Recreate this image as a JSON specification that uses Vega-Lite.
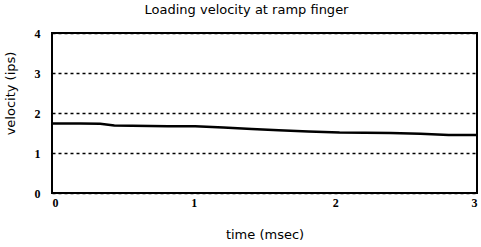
{
  "$schema": "https://vega.github.io/schema/vega-lite/v6.json",
  "autosize": "none",
  "width": 425,
  "height": 160,
  "padding": {"left": 52, "top": 33, "right": 4, "bottom": 54},
  "background": "white",
  "title": {
    "text": "Loading velocity at ramp finger",
    "font": "DejaVu Sans",
    "fontSize": 13,
    "fontWeight": "normal",
    "color": "black",
    "anchor": "middle",
    "dx": -18,
    "baseline": "alphabetic",
    "offset": 0
  },
  "config": {
    "view": {"stroke": "black", "strokeWidth": 2},
    "axis": {
      "labelFont": "Liberation Sans Narrow",
      "labelFontWeight": "bold",
      "labelFontSize": 12,
      "labelColor": "black",
      "titleFont": "DejaVu Sans",
      "titleFontSize": 13,
      "titleFontWeight": "normal",
      "titleColor": "black",
      "ticks": false,
      "domain": false
    }
  },
  "data": {
    "values": [
      {"t": 0.0, "v": 1.74},
      {"t": 0.2, "v": 1.74},
      {"t": 0.34, "v": 1.73},
      {"t": 0.44, "v": 1.69},
      {"t": 0.82, "v": 1.67},
      {"t": 1.01, "v": 1.67},
      {"t": 1.21, "v": 1.64},
      {"t": 1.41, "v": 1.6},
      {"t": 1.6, "v": 1.57},
      {"t": 1.81, "v": 1.54},
      {"t": 2.03, "v": 1.51},
      {"t": 2.39, "v": 1.5},
      {"t": 2.6, "v": 1.48},
      {"t": 2.8, "v": 1.45},
      {"t": 3.0, "v": 1.45}
    ]
  },
  "mark": {"type": "line", "color": "black", "strokeWidth": 2.5},
  "encoding": {
    "x": {
      "field": "t",
      "type": "quantitative",
      "scale": {"domain": [0, 3], "nice": false, "zero": false},
      "axis": {
        "title": "time (msec)",
        "values": [0, 1, 2, 3],
        "format": "d",
        "grid": false,
        "labelPadding": 4,
        "titlePadding": 20
      }
    },
    "y": {
      "field": "v",
      "type": "quantitative",
      "scale": {"domain": [0, 4], "nice": false},
      "axis": {
        "title": "velocity (ips)",
        "values": [0, 1, 2, 3, 4],
        "format": "d",
        "grid": true,
        "gridColor": "black",
        "gridDash": [3, 3],
        "gridWidth": 1.3,
        "gridOpacity": 1,
        "labelPadding": 12,
        "titleX": -42,
        "titleY": 60,
        "titleBaseline": "middle"
      }
    }
  }
}
